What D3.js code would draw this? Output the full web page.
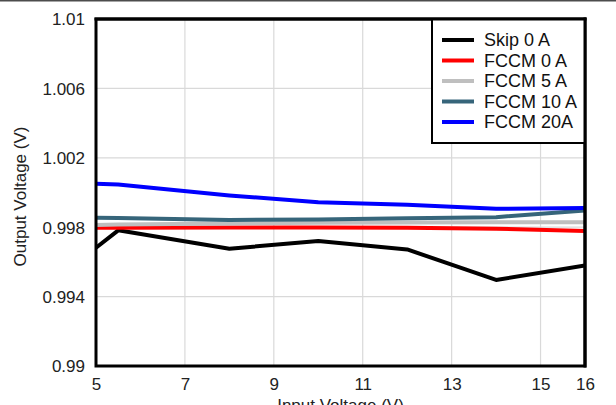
<!DOCTYPE html>
<html>
<head>
<meta charset="utf-8">
<script src="https://cdn.jsdelivr.net/npm/d3@7"></script>
<style>
  html, body { margin: 0; padding: 0; background: #fff; }
  svg { display: block; }
  text { font-family: "Liberation Sans", Arial, Helvetica, sans-serif; }
</style>
</head>
<body>
<svg id="chart" width="616" height="405"></svg>
<script>
// ---- data ----
const vin = [5, 5.5, 8, 10, 12, 14, 16];
const skip0A   = [0.99682, 0.99782, 0.99676, 0.99720, 0.99672, 0.99496, 0.99580];
const fccm0A   = [0.99797, 0.99797, 0.99798, 0.99798, 0.99797, 0.99791, 0.99778];
const fccm5A   = [0.99813, 0.99815, 0.99822, 0.99826, 0.99827, 0.99828, 0.99829];
const fccm10A  = [0.99855, 0.99853, 0.99842, 0.99845, 0.99851, 0.99858, 0.99897];
const fccm20A  = [1.00050, 1.00046, 0.99983, 0.99944, 0.99929, 0.99906, 0.99910];
const seriesNames = ["Skip 0 A", "FCCM 0 A", "FCCM 5 A", "FCCM 10 A", "FCCM 20A"];
const seriesColors = ["#000000", "#ff0000", "#bfbfbf", "#36657a", "#0000ff"];
const xTicks = [5, 7, 9, 11, 13, 15, 16];
const xGrid = [7, 9, 11, 13, 15];
const yTicks = [0.99, 0.994, 0.998, 1.002, 1.006, 1.01];
const yTickLabels = ["0.99", "0.994", "0.998", "1.002", "1.006", "1.01"];
const yGrid = [0.994, 0.998, 1.002, 1.006];
const xTitle = "Input Voltage (V)";
const yTitle = "Output Voltage (V)";

const allSeries = [skip0A, fccm0A, fccm5A, fccm10A, fccm20A];

// ---- layout ----
const pL = 96, pR = 585, pT = 19, pB = 366;
const svg = d3.select("#chart");

const x = d3.scaleLinear().domain([5, 16]).range([pL, pR]);
const y = d3.scaleLinear().domain([0.99, 1.01]).range([pB, pT]);

// top border strip
svg.append("line").attr("x1", 0).attr("x2", 616).attr("y1", 0.75).attr("y2", 0.75)
  .attr("stroke", "#4d4d4d").attr("stroke-width", 1.5);

// gridlines
svg.append("g").selectAll("line").data(xGrid).join("line")
  .attr("x1", d => x(d)).attr("x2", d => x(d))
  .attr("y1", pT).attr("y2", pB)
  .attr("stroke", "#d9d9d9").attr("stroke-width", 1.2);
svg.append("g").selectAll("line").data(yGrid).join("line")
  .attr("x1", pL).attr("x2", pR)
  .attr("y1", d => y(d)).attr("y2", d => y(d))
  .attr("stroke", "#d9d9d9").attr("stroke-width", 1.2);

// x axis labels
const xAxis = d3.axisBottom(x).tickValues(xTicks).tickSize(0).tickPadding(0)
  .tickFormat(d => String(d));
const gx = svg.append("g").attr("transform", `translate(0,${pB + 24})`).call(xAxis);
gx.select(".domain").remove();
gx.selectAll("text").attr("font-size", 17).attr("fill", "#222").attr("dy", 0)
  .attr("font-family", "'Liberation Sans', Arial, sans-serif");

// y axis labels
const yAxis = d3.axisLeft(y).tickValues(yTicks).tickSize(0).tickPadding(0)
  .tickFormat((d, i) => yTickLabels[i]);
const gy = svg.append("g").attr("transform", `translate(${pL - 11},0)`).call(yAxis);
gy.select(".domain").remove();
gy.selectAll("text").attr("font-size", 17).attr("fill", "#222").attr("dy", "0.35em")
  .attr("font-family", "'Liberation Sans', Arial, sans-serif");

// titles
svg.append("text").attr("x", (pL + pR) / 2).attr("y", 411)
  .attr("text-anchor", "middle").attr("font-size", 17).attr("fill", "#222").text(xTitle);
svg.append("text").attr("transform", `translate(26,${(pT + pB) / 2 + 4}) rotate(-90)`)
  .attr("text-anchor", "middle").attr("font-size", 17).attr("fill", "#222").text(yTitle);

// lines
const line = d3.line().x((d, i) => x(vin[i])).y(d => y(d));
svg.append("clipPath").attr("id", "clip").append("rect")
  .attr("x", pL).attr("y", pT).attr("width", pR - pL).attr("height", pB - pT);
const gl = svg.append("g").attr("clip-path", "url(#clip)");
allSeries.forEach((s, k) => {
  gl.append("path").datum(s).attr("d", line).attr("fill", "none")
    .attr("stroke", seriesColors[k]).attr("stroke-width", 4)
    .attr("stroke-linejoin", "round");
});

// frame
svg.append("rect").attr("x", pL).attr("y", pT).attr("width", pR - pL).attr("height", pB - pT)
  .attr("fill", "none").attr("stroke", "#000").attr("stroke-width", 3);

// legend
const lg = svg.append("g");
lg.append("rect").attr("x", 432).attr("y", pT).attr("width", 153).attr("height", 124)
  .attr("fill", "#fff").attr("stroke", "#000").attr("stroke-width", 2);
seriesNames.forEach((n, k) => {
  const yy = 40 + k * 20.5;
  lg.append("line").attr("x1", 442).attr("x2", 474).attr("y1", yy).attr("y2", yy)
    .attr("stroke", seriesColors[k]).attr("stroke-width", 4);
  lg.append("text").attr("x", 484).attr("y", yy).attr("dy", "0.36em")
    .attr("font-size", 18).attr("fill", "#111").text(n);
});
// redraw frame edges over legend
svg.append("line").attr("x1", pR).attr("x2", pR).attr("y1", pT - 1.5).attr("y2", pB + 1.5)
  .attr("stroke", "#000").attr("stroke-width", 3);
svg.append("line").attr("x1", pL - 1.5).attr("x2", pR + 1.5).attr("y1", pT).attr("y2", pT)
  .attr("stroke", "#000").attr("stroke-width", 3);
</script>
</body>
</html>
